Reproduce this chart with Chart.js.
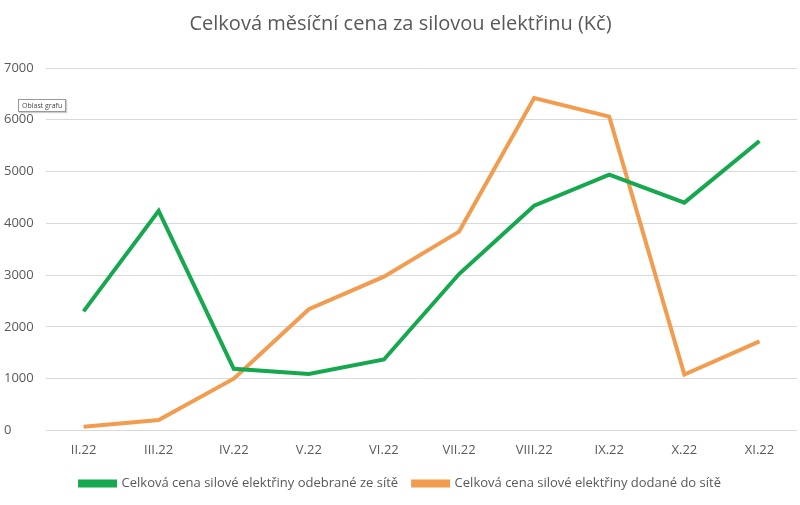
<!DOCTYPE html>
<html>
<head>
<meta charset="utf-8">
<script src="https://cdn.jsdelivr.net/npm/chart.js@4/dist/chart.umd.min.js"></script>
<style>
html,body{margin:0;padding:0;background:#fff;}
#wrap{position:relative;width:800px;height:505px;}
#tip{position:absolute;left:18px;top:99px;font-family:"Open Sans",sans-serif;font-size:7px;color:#444;border:1px solid #999;background:#fff;padding:1px 3px;line-height:9px;box-shadow:1px 1px 1px #ccc;}
</style>
</head>
<body>
<div id="wrap">
<canvas id="c" width="800" height="505"></canvas>
<div id="tip">Oblast grafu</div>
</div>
<script>
const categories = ["II.22","III.22","IV.22","V.22","VI.22","VII.22","VIII.22","IX.22","X.22","XI.22"];
const odebrane = [2300, 4240, 1190, 1090, 1370, 3020, 4340, 4940, 4400, 5590];
const dodane = [70, 200, 1000, 2340, 2970, 3840, 6420, 6060, 1080, 1720];
const seriesNames = ["Celková cena silové elektřiny odebrané ze sítě","Celková cena silové elektřiny dodané do sítě"];
const titleText = "Celková měsíční cena za silovou elektřinu (Kč)";

new Chart(document.getElementById('c'), {
  type: 'line',
  data: {
    labels: categories,
    datasets: [
      {label: seriesNames[0], data: odebrane, borderColor: '#16a84e', backgroundColor: '#16a84e', borderWidth: 4, pointRadius: 0, tension: 0},
      {label: seriesNames[1], data: dodane, borderColor: '#f19c4f', backgroundColor: '#f19c4f', borderWidth: 4, pointRadius: 0, tension: 0}
    ]
  },
  options: {
    responsive: false,
    animation: false,
    layout: {padding: {left: 4, right: 3, top: 0, bottom: 5}},
    plugins: {
      title: {display: true, text: titleText, color: '#595959', font: {family: 'Open Sans', size: 20, weight: 'normal'}, padding: {top: 12, bottom: 32}},
      legend: {position: 'bottom', labels: {color: '#595959', font: {family: 'Open Sans', size: 13}, boxWidth: 35, boxHeight: 4, padding: 15}},
      tooltip: {enabled: false}
    },
    scales: {
      x: {offset: true, grid: {display: false}, border: {display: false}, ticks: {color: '#595959', font: {family: 'Open Sans', size: 13}, padding: 4}},
      y: {min: 0, max: 7000, afterFit: s => { s.width = 42; },
          ticks: {stepSize: 1000, color: '#595959', font: {family: 'Open Sans', size: 13}, padding: 14, crossAlign: 'far', callback: v => String(v)},
          grid: {color: '#d9d9d9', drawTicks: false}, border: {display: false}}
    }
  }
});
</script>
</body>
</html>
